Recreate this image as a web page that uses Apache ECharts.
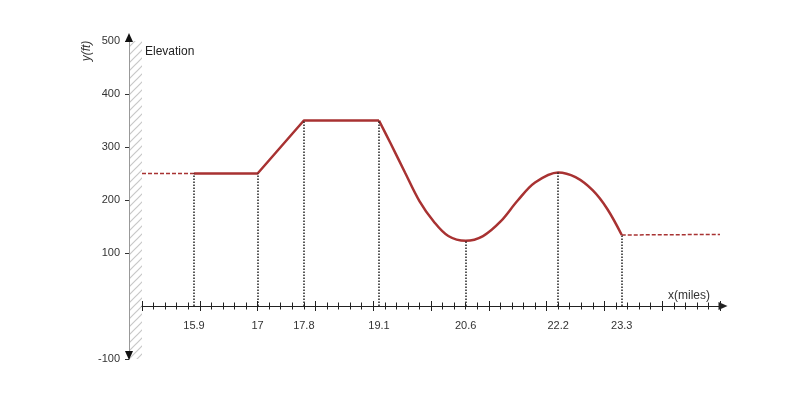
<!DOCTYPE html>
<html>
<head>
<meta charset="utf-8">
<script src="https://cdn.jsdelivr.net/npm/echarts@6/dist/echarts.min.js"></script>
<style>
    html, body { margin: 0; padding: 0; background: #fff; }
    #container { width: 800px; height: 400px; }
</style>
</head>
<body>
<div id="container"></div>
<script>
var dom = document.getElementById('container');
var myChart = echarts.init(dom, null, { renderer: 'canvas' });

// axis ranges and labels
const xMin = 15;
const xMax = 25;
const yMin = -100;
const yMax = 500;
const xKeyLabels = [15.9, 17, 17.8, 19.1, 20.6, 22.2, 23.3];
const yTickLabels = [-100, 100, 200, 300, 400, 500];

// elevation profile
const leftDashX = [15, 15.9];
const leftDashY = [250, 250];
const flatX = [15.9, 17, 17.8, 19.1];
const flatY = [250, 250, 350, 350];
const curveX = [19.1, 19.3, 19.55, 19.8, 20.05, 20.3, 20.6, 20.9, 21.2, 21.5, 21.8, 22.2, 22.5, 22.8, 23.05, 23.3];
const curveY = [350, 307, 252, 198, 159, 132, 123, 132, 159, 199, 233, 252, 243, 218, 183, 134];
const rightDashX = [23.3, 25];
const rightDashY = [134, 135];
const dropX = [15.9, 17, 17.8, 19.1, 20.6, 22.2, 23.3];
const dropY = [250, 250, 350, 350, 123, 252, 134];

const red = '#a83232';
const font = 'Liberation Sans, Arial, sans-serif';

// grid box
const gridLeft = 142, gridRight = 80, gridTop = 41, gridBottom = 41;
const gridHeight = 400 - gridTop - gridBottom;
// x axis sits on y = 0: shift it up from the grid bottom
const zeroOffset = -(0 - yMin) / (yMax - yMin) * gridHeight;
const yAxisOffset = 13;

function pairs(xs, ys) {
    return xs.map((x, i) => [x, ys[i]]);
}

let dropLines = [];
for (let i = 0; i < dropX.length; i++) {
    dropLines.push([{ coord: [dropX[i], 0] }, { coord: [dropX[i], dropY[i]] }]);
}

function xAxisBase(gridIndex) {
    return {
        type: 'value',
        gridIndex: gridIndex,
        position: 'bottom',
        offset: zeroOffset,
        min: xMin,
        max: xMax,
        interval: 1,
        splitLine: { show: false },
        minorSplitLine: { show: false }
    };
}

let xBottom = Object.assign(xAxisBase(0), {
    name: 'x(miles)',
    nameLocation: 'end',
    nameGap: -52,
    nameTextStyle: { fontFamily: font, fontSize: 12, color: '#333', verticalAlign: 'bottom', padding: [0, 0, 4, 0] },
    axisLine: {
        onZero: false,
        lineStyle: { color: '#222', width: 1 },
        symbol: ['none', 'triangle'],
        symbolSize: [8, 9],
        symbolOffset: [0, 3]
    },
    axisTick: { show: true, length: 5, lineStyle: { color: '#222' } },
    minorTick: { show: true, splitNumber: 5, length: 3.5, lineStyle: { color: '#222' } },
    axisLabel: { customValues: xKeyLabels, margin: 14, fontFamily: font, fontSize: 11, color: '#333' }
});

let xTop = Object.assign(xAxisBase(1), {
    axisLine: { show: false, onZero: false },
    axisTick: { show: true, inside: true, length: 5, lineStyle: { color: '#222' } },
    minorTick: { show: true, splitNumber: 5, length: 3.5, lineStyle: { color: '#222' } },
    axisLabel: { show: false }
});

option = {
    animation: false,
    title: {
        text: 'Elevation',
        left: 145,
        top: 46,
        padding: 0,
        textStyle: { fontFamily: font, fontSize: 12, fontWeight: 'normal', color: '#222' }
    },
    grid: [
        { left: gridLeft, right: gridRight, top: gridTop, bottom: gridBottom },
        { left: gridLeft, right: gridRight, top: gridTop, bottom: gridBottom }
    ],
    xAxis: [xBottom, xTop],
    yAxis: [
        {
            type: 'value',
            gridIndex: 0,
            min: yMin,
            max: yMax,
            interval: 100,
            offset: yAxisOffset,
            axisLine: { show: true, onZero: false, lineStyle: { color: '#999', width: 1 } },
            axisTick: { show: true, customValues: yTickLabels, length: 4, lineStyle: { color: '#333' } },
            axisLabel: { customValues: yTickLabels, margin: 9, fontFamily: font, fontSize: 11, color: '#333' },
            splitLine: { show: false }
        },
        {
            // only the black arrow heads of the y axis
            type: 'value',
            gridIndex: 1,
            min: yMin,
            max: yMax,
            offset: yAxisOffset,
            axisLine: {
                show: true,
                onZero: false,
                lineStyle: { color: '#111', width: 0 },
                symbol: ['triangle', 'triangle'],
                symbolSize: [8, 9],
                symbolOffset: [3.5, 3.5]
            },
            axisTick: { show: false },
            axisLabel: { show: false },
            splitLine: { show: false }
        }
    ],
    series: [
        {
            name: 'left',
            type: 'line',
            data: pairs(leftDashX, leftDashY),
            symbol: 'none',
            lineStyle: { color: red, width: 1.5, type: [4, 2] }
        },
        {
            name: 'Elevation',
            type: 'line',
            data: pairs(flatX, flatY),
            symbol: 'none',
            lineStyle: { color: red, width: 2.5 },
            markLine: {
                silent: true,
                symbol: 'none',
                label: { show: false },
                lineStyle: { color: '#222', type: [1.5, 1.5], width: 1.5 },
                data: dropLines
            }
        },
        {
            name: 'curve',
            type: 'line',
            data: pairs(curveX, curveY),
            smooth: 0.35,
            symbol: 'none',
            lineStyle: { color: red, width: 2.5 }
        },
        {
            name: 'right',
            type: 'line',
            data: pairs(rightDashX, rightDashY),
            symbol: 'none',
            lineStyle: { color: red, width: 1.5, type: [4, 2] }
        }
    ]
};

myChart.setOption(option);

// hatched band between y axis and the start of x axis, plus y axis name
let hatch = document.createElement('canvas');
hatch.width = 8;
hatch.height = 8;
let ctx = hatch.getContext('2d');
ctx.strokeStyle = '#c8c8c8';
ctx.lineWidth = 1.2;
ctx.beginPath();
ctx.moveTo(0, 8);
ctx.lineTo(8, 0);
ctx.moveTo(-1, 1);
ctx.lineTo(1, -1);
ctx.moveTo(7, 9);
ctx.lineTo(9, 7);
ctx.stroke();

let pTop = myChart.convertToPixel({ gridIndex: 0 }, [xMin, yMax]);
let pBot = myChart.convertToPixel({ gridIndex: 0 }, [xMin, yMin]);
let axisX = pTop[0] - yAxisOffset;

myChart.setOption({
    graphic: [
        {
            type: 'rect',
            silent: true,
            z: 0,
            shape: { x: axisX + 1, y: pTop[1], width: pTop[0] - axisX - 1, height: pBot[1] - pTop[1] },
            style: { fill: { image: hatch, repeat: 'repeat' } }
        },
        {
            type: 'text',
            silent: true,
            x: axisX - 42,
            y: pTop[1] + 10,
            rotation: Math.PI / 2,
            style: {
                text: 'y(ft)',
                fontFamily: font,
                fontSize: 12,
                fontStyle: 'italic',
                fill: '#333',
                align: 'center',
                verticalAlign: 'middle'
            }
        }
    ]
});

window.addEventListener('resize', myChart.resize);
</script>
</body>
</html>
